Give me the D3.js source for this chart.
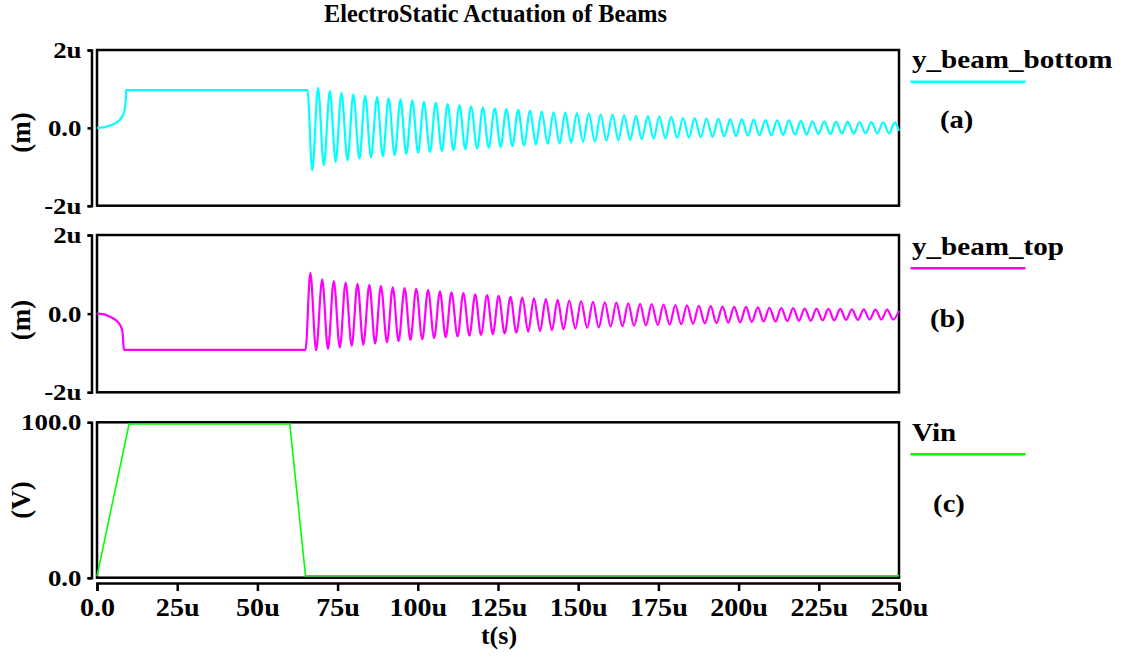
<!DOCTYPE html>
<html>
<head>
<meta charset="utf-8">
<script src="https://cdn.jsdelivr.net/npm/d3@7"></script>
<style>
  body { margin: 0; background: #fff; }
  svg { display: block; font-family: "Liberation Serif", "Times New Roman", serif; font-weight: bold; }
</style>
</head>
<body>
<div id="chart"></div>
<script>
// time axis, in u (microseconds)
const timeTicks = [0, 25, 50, 75, 100, 125, 150, 175, 200, 225, 250];
const timeTickLabels = ["0.0", "25u", "50u", "75u", "100u", "125u", "150u", "175u", "200u", "225u", "250u"];

const beamTicks = [-2, 0, 2];
const beamTickLabels = ["-2u", "0.0", "2u"];
const vinTicks = [0, 100];
const vinTickLabels = ["0.0", "100.0"];

// y_beam_bottom (u): pull-in and hold
const bottomHoldT = [0, 2, 4.1, 6.6, 8.0, 8.7, 9.0, 9.1, 65.6];
const bottomHoldV = [0, 0.01, 0.06, 0.17, 0.31, 0.52, 0.78, 0.97, 0.97];
// y_beam_bottom ringing after release: peaks and troughs
const bottomPeakT = [68.9, 72.6, 76.2, 79.9, 83.6, 87.3, 90.9, 94.6, 98.3, 101.9, 105.6, 109.3, 113.0, 116.6, 120.3, 124.0, 127.6, 131.3, 135.0, 138.6, 142.3, 146.0, 149.6, 153.3, 157.0, 160.7, 164.3, 168.0, 171.7, 175.3, 179.0, 182.7, 186.3, 190.0, 193.7, 197.4, 201.0, 204.7, 208.4, 212.0, 215.7, 219.4, 223.0, 226.7, 230.4, 234.0, 237.7, 241.4, 245.1, 248.7];
const bottomPeakV = [1.03, 0.95, 0.90, 0.86, 0.83, 0.79, 0.76, 0.73, 0.70, 0.67, 0.64, 0.61, 0.58, 0.55, 0.52, 0.50, 0.48, 0.46, 0.44, 0.42, 0.40, 0.39, 0.38, 0.37, 0.35, 0.34, 0.32, 0.31, 0.30, 0.29, 0.28, 0.26, 0.25, 0.24, 0.23, 0.22, 0.22, 0.21, 0.20, 0.19, 0.19, 0.18, 0.17, 0.17, 0.16, 0.16, 0.15, 0.15, 0.14, 0.14];
const bottomTroughT = [67.1, 70.7, 74.4, 78.1, 81.8, 85.4, 89.1, 92.8, 96.4, 100.1, 103.8, 107.5, 111.1, 114.8, 118.5, 122.1, 125.8, 129.5, 133.1, 136.8, 140.5, 144.2, 147.8, 151.5, 155.2, 158.8, 162.5, 166.2, 169.8, 173.5, 177.2, 180.9, 184.5, 188.2, 191.9, 195.5, 199.2, 202.9, 206.5, 210.2, 213.9, 217.6, 221.2, 224.9, 228.6, 232.2, 235.9, 239.6, 243.2, 246.9, 250];
const bottomTroughV = [-1.10, -0.96, -0.88, -0.83, -0.79, -0.76, -0.73, -0.70, -0.67, -0.64, -0.62, -0.59, -0.57, -0.55, -0.53, -0.51, -0.49, -0.47, -0.45, -0.43, -0.41, -0.40, -0.38, -0.36, -0.35, -0.33, -0.32, -0.31, -0.29, -0.28, -0.27, -0.26, -0.25, -0.24, -0.23, -0.22, -0.21, -0.20, -0.19, -0.19, -0.18, -0.17, -0.17, -0.16, -0.16, -0.15, -0.15, -0.14, -0.14, -0.14, -0.08];

// y_beam_top (u)
const topHoldT = [0, 2, 4.1, 6.2, 7.4, 8.0, 8.2, 8.4, 65.0];
const topHoldV = [0, -0.01, -0.08, -0.19, -0.32, -0.49, -0.75, -0.92, -0.92];
const topPeakT = [66.5, 70.2, 73.8, 77.5, 81.2, 84.9, 88.5, 92.2, 95.9, 99.5, 103.2, 106.9, 110.5, 114.2, 117.9, 121.6, 125.2, 128.9, 132.6, 136.2, 139.9, 143.6, 147.2, 150.9, 154.6, 158.3, 161.9, 165.6, 169.3, 172.9, 176.6, 180.3, 183.9, 187.6, 191.3, 195.0, 198.6, 202.3, 206.0, 209.6, 213.3, 217.0, 220.6, 224.3, 228.0, 231.7, 235.3, 239.0, 242.7, 246.3, 250];
const topPeakV = [1.04, 0.87, 0.83, 0.79, 0.76, 0.73, 0.70, 0.67, 0.65, 0.63, 0.60, 0.57, 0.54, 0.52, 0.49, 0.47, 0.45, 0.43, 0.41, 0.39, 0.37, 0.35, 0.33, 0.32, 0.30, 0.29, 0.28, 0.26, 0.25, 0.24, 0.23, 0.22, 0.21, 0.20, 0.19, 0.18, 0.17, 0.17, 0.16, 0.15, 0.14, 0.14, 0.13, 0.13, 0.12, 0.12, 0.11, 0.11, 0.10, 0.10, 0.07];
const topTroughT = [68.3, 72.0, 75.7, 79.4, 83.0, 86.7, 90.4, 94.0, 97.7, 101.4, 105.1, 108.7, 112.4, 116.1, 119.7, 123.4, 127.1, 130.7, 134.4, 138.1, 141.8, 145.4, 149.1, 152.8, 156.4, 160.1, 163.8, 167.4, 171.1, 174.8, 178.5, 182.1, 185.8, 189.5, 193.1, 196.8, 200.5, 204.1, 207.8, 211.5, 215.2, 218.8, 222.5, 226.2, 229.8, 233.5, 237.2, 240.8, 244.5, 248.2];
const topTroughV = [-0.93, -0.90, -0.86, -0.82, -0.79, -0.76, -0.73, -0.70, -0.67, -0.65, -0.62, -0.60, -0.58, -0.56, -0.54, -0.52, -0.50, -0.48, -0.46, -0.44, -0.42, -0.40, -0.38, -0.36, -0.35, -0.33, -0.32, -0.31, -0.30, -0.29, -0.28, -0.27, -0.26, -0.25, -0.24, -0.23, -0.22, -0.21, -0.20, -0.20, -0.19, -0.18, -0.18, -0.17, -0.17, -0.16, -0.16, -0.15, -0.15, -0.15];

// Vin (V)
const vinT = [0, 10, 60.1, 65, 250];
const vinV = [1.0, 98.9, 98.9, 1.3, 1.3];

const zip = (ts, vs) => ts.map((t, i) => ({ t: t, v: vs[i] }));
const bottomData = [].concat(zip(bottomHoldT, bottomHoldV), zip(bottomPeakT, bottomPeakV), zip(bottomTroughT, bottomTroughV))
    .sort((a, b) => a.t - b.t);
const topData = [].concat(zip(topHoldT, topHoldV), zip(topPeakT, topPeakV), zip(topTroughT, topTroughV))
    .sort((a, b) => a.t - b.t);
const vinData = zip(vinT, vinV);

const width = 1124, height = 657;
const svg = d3.select("#chart").append("svg")
    .attr("width", width)
    .attr("height", height);

// squeeze/stretch text horizontally to match the wide serif of the original
function stretch(sel, k) {
    sel.each(function () {
        const t = d3.select(this);
        const x = +t.attr("x") || 0;
        t.attr("x", x / k).attr("transform", `scale(${k},1)`);
    });
}

const x = d3.scaleLinear().domain([0, 250]).range([97, 899]);

const panels = [
    { data: bottomData, top: 50, bottom: 205.7, domain: [-2, 2], ticks: beamTicks, labels: beamTickLabels,
      color: "#00ffff", width: 2.2, curve: d3.curveMonotoneX, unit: "(m)", unitY: 132.5,
      name: "y_beam_bottom", nameY: 68.3, lineY: 81.7, tag: "(a)", tagX: 956.7, tagY: 128.5 },
    { data: topData, top: 235, bottom: 392.3, domain: [-2, 2], ticks: beamTicks, labels: beamTickLabels,
      color: "#ff00ff", width: 2.2, curve: d3.curveMonotoneX, unit: "(m)", unitY: 320,
      name: "y_beam_top", nameY: 255, lineY: 268.3, tag: "(b)", tagX: 947.5, tagY: 327 },
    { data: vinData, top: 422.3, bottom: 577.7, domain: [0, 100], ticks: vinTicks, labels: vinTickLabels,
      color: "#00ff00", width: 1.6, curve: d3.curveLinear, unit: "(V)", unitY: 500,
      name: "Vin", nameY: 440.7, lineY: 454.3, tag: "(c)", tagX: 949, tagY: 512 }
];

// Titel
svg.append("text")
    .attr("x", 495.5)
    .attr("y", 22)
    .attr("text-anchor", "middle")
    .attr("font-size", 24.3)
    .text("ElectroStatic Actuation of Beams");

panels.forEach(p => {
    const y = d3.scaleLinear().domain(p.domain).range([p.bottom, p.top]);

    // y axis, offset left of the frame
    const yAxis = svg.append("g")
        .attr("class", "y-axis")
        .attr("transform", "translate(91.5,0)")
        .call(d3.axisLeft(y)
            .tickValues(p.ticks)
            .tickFormat((d, i) => p.labels[i])
            .tickSizeInner(4)
            .tickSizeOuter(4)
            .tickPadding(6));
    yAxis.attr("font-size", null).attr("font-family", null);
    yAxis.selectAll("path, line").attr("stroke", "#000").attr("stroke-width", 2.5);
    yAxis.selectAll("text").attr("font-size", 24).attr("fill", "#000");
    stretch(yAxis.selectAll("text"), 1.12);

    // frame
    svg.append("rect")
        .attr("x", x(0))
        .attr("y", p.top)
        .attr("width", x(250) - x(0))
        .attr("height", p.bottom - p.top)
        .attr("fill", "none")
        .attr("stroke", "#000")
        .attr("stroke-width", 2.5);

    // signal
    const line = d3.line()
        .x(d => x(d.t))
        .y(d => y(d.v))
        .curve(p.curve);

    svg.append("path")
        .datum(p.data)
        .attr("d", line)
        .attr("fill", "none")
        .attr("stroke", p.color)
        .attr("stroke-width", p.width)
        .attr("stroke-linejoin", "round");

    // unit label
    svg.append("text")
        .attr("transform", `translate(30,${p.unitY}) rotate(-90)`)
        .attr("text-anchor", "middle")
        .attr("font-size", 27)
        .text(p.unit);

    // legend
    const name = svg.append("text")
        .attr("x", 912)
        .attr("y", p.nameY)
        .attr("font-size", 26)
        .text(p.name);
    stretch(name, 1.12);

    svg.append("line")
        .attr("x1", 910.5)
        .attr("x2", 1025.5)
        .attr("y1", p.lineY)
        .attr("y2", p.lineY)
        .attr("stroke", p.color)
        .attr("stroke-width", 2.6);

    const tag = svg.append("text")
        .attr("x", p.tagX)
        .attr("y", p.tagY)
        .attr("text-anchor", "middle")
        .attr("font-size", 26)
        .text(p.tag);
    stretch(tag, 1.1);
});

// time axis under the last panel
const xAxis = svg.append("g")
    .attr("transform", "translate(0,583)")
    .call(d3.axisBottom(x)
        .tickValues(timeTicks)
        .tickFormat((d, i) => timeTickLabels[i])
        .tickSizeInner(8)
        .tickSizeOuter(8)
        .tickPadding(7));
xAxis.attr("font-size", null).attr("font-family", null);
xAxis.selectAll("path, line").attr("stroke", "#000").attr("stroke-width", 2.5);
xAxis.selectAll("text").attr("font-size", 26).attr("fill", "#000");
stretch(xAxis.selectAll("text"), 1.08);

// X-Achsen-Beschriftung
svg.append("text")
    .attr("x", 499)
    .attr("y", 644)
    .attr("text-anchor", "middle")
    .attr("font-size", 26)
    .text("t(s)");
</script>
</body>
</html>
